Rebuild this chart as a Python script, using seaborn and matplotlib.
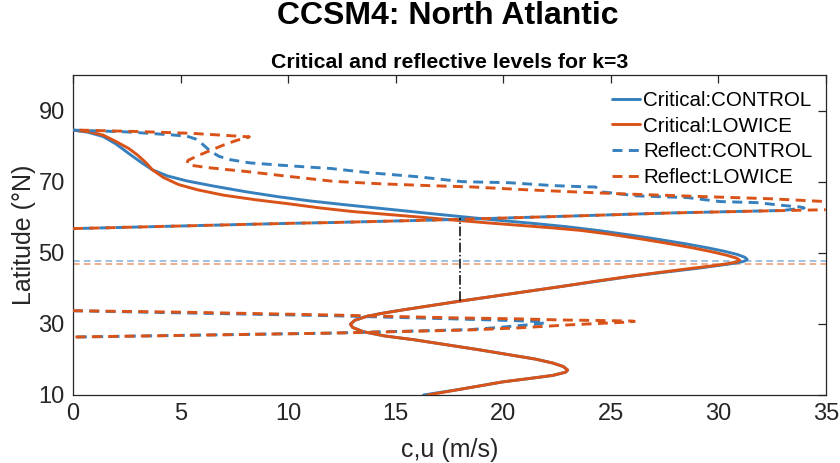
import matplotlib
matplotlib.use("Agg")
import matplotlib.pyplot as plt
import seaborn as sns
import pandas as pd

# ---------------- data ----------------
crit_ctrl_u = [0.0, 0.7, 1.4, 2.0, 2.6, 3.2, 3.7, 4.4, 5.3, 6.5, 8.0, 9.5, 11.0, 12.5, 14.6,
               17.0, 19.5, 21.5, 23.0, 24.5, 26.0, 27.3, 28.5, 29.5, 30.3, 30.9, 31.25, 31.35,
               31.2, 30.8, 30.1, 29.0, 27.6, 26.0, 24.4, 22.8, 21.2, 19.6, 18.0, 16.6, 15.3,
               14.3, 13.6, 13.1, 12.9, 13.0, 13.5, 14.5, 15.9, 17.4, 18.9, 20.3, 21.5, 22.3,
               22.8, 23.0, 22.9, 22.3, 21.3, 20.0, 18.0, 16.3]
crit_ctrl_lat = [84.5, 83.9, 82.7, 80.6, 77.9, 75.3, 73.3, 71.6, 70.2, 68.8, 67.2, 65.8, 64.6, 63.6, 62.3,
                 60.8, 59.3, 58.2, 57.3, 56.2, 54.9, 53.7, 52.5, 51.4, 50.4, 49.5, 48.7, 48.1,
                 47.6, 47.1, 46.5, 45.6, 44.6, 43.4, 42.0, 40.6, 39.2, 37.8, 36.4, 35.1, 33.9,
                 32.9, 32.0, 31.0, 29.9, 29.0, 27.8, 26.6, 25.5, 24.1, 22.7, 21.3, 20.1, 19.0,
                 18.0, 17.0, 16.4, 15.5, 14.7, 13.7, 11.6, 10.0]

crit_low_u = [0.0, 0.7, 1.4, 2.0, 2.6, 3.0, 3.4, 3.7, 4.2, 4.9, 5.8, 7.0, 8.5, 10.0, 11.5,
              13.0, 14.6, 16.2, 17.7, 19.3, 20.8, 22.3, 23.6, 25.0, 26.4, 27.7, 28.8, 29.7,
              30.4, 30.85, 31.0, 30.85, 30.4, 29.7, 28.6, 27.3, 25.8, 24.3, 22.8, 21.2, 19.6,
              18.0, 16.6, 15.3, 14.3, 13.6, 13.1, 12.9, 13.0, 13.5, 14.5, 15.9, 17.4, 18.9,
              20.3, 21.5, 22.3, 22.8, 23.0, 22.9, 22.3, 21.3, 20.0, 18.0, 16.5]
crit_low_lat = [84.5, 84.1, 83.1, 81.3, 79.3, 77.5, 75.3, 73.3, 71.2, 69.2, 67.7, 66.2, 64.9, 63.8, 62.6,
                61.6, 60.8, 60.0, 59.2, 58.4, 57.7, 57.0, 56.3, 55.2, 53.9, 52.6, 51.4, 50.3,
                49.3, 48.5, 47.9, 47.4, 46.9, 46.3, 45.5, 44.5, 43.3, 42.0, 40.6, 39.2, 37.8,
                36.4, 35.1, 33.9, 32.9, 32.0, 31.0, 29.9, 29.0, 27.8, 26.6, 25.5, 24.1, 22.7,
                21.3, 20.1, 19.0, 18.0, 17.0, 16.4, 15.5, 14.7, 13.7, 11.6, 10.0]

# Reflective levels, CONTROL
refl_ctrl_n_u = [0.0, 2.5, 4.5, 5.3, 5.7, 6.05, 6.4, 6.8, 7.3, 8.2, 9.5, 10.7, 12.0, 13.8, 16.0,
                 18.1, 20.3, 22.3, 23.6, 24.3, 24.4, 24.6, 25.1, 26.2, 28.6, 30.1, 31.8, 33.2,
                 33.8, 34.0, 33.0, 30.0, 27.8, 23.0, 17.4, 12.0, 10.2, 0.0]
refl_ctrl_n_lat = [84.5, 84.0, 83.2, 82.8, 82.0, 80.4, 78.5, 77.1, 76.2, 75.3, 74.7, 74.2, 73.7, 72.5, 71.4,
                   70.0, 69.7, 68.9, 68.6, 68.5, 68.0, 67.1, 66.8, 66.0, 65.5, 64.4, 64.1, 63.2,
                   62.9, 62.6, 61.9, 61.5, 61.2, 60.3, 59.3, 58.5, 58.3, 56.8]
refl_ctrl_s_u = [0.0, 5.0, 12.0, 17.7, 20.6, 21.5, 21.95, 21.7, 20.9, 19.8, 18.5, 12.0, 0.0]
refl_ctrl_s_lat = [33.7, 33.1, 32.3, 31.4, 30.9, 30.7, 30.4, 30.0, 29.6, 29.0, 28.4, 27.4, 26.3]

# Reflective levels, LOWICE
refl_low_n1_u = [0.3, 3.0, 5.5, 8.2, 7.6, 7.0, 6.4, 5.8, 5.35, 5.3, 5.5, 6.2, 7.0, 8.0, 10.0,
                 12.1, 14.3, 16.5, 18.6, 20.8, 23.0, 25.4, 29.3, 32.4, 35.0]
refl_low_n1_lat = [84.5, 84.1, 83.6, 82.6, 81.6, 80.3, 78.8, 77.3, 76.0, 75.2, 74.6, 74.0, 73.5, 72.9, 71.5,
                   70.1, 69.4, 68.9, 68.5, 67.8, 67.2, 66.6, 65.8, 65.2, 64.4]
refl_low_n2_u = [0.0, 10.2, 12.0, 17.4, 23.0, 27.8, 32.4, 35.0]
refl_low_n2_lat = [56.8, 58.3, 58.5, 59.3, 60.3, 61.2, 61.8, 62.1]
refl_low_s_u = [0.0, 5.0, 12.0, 17.7, 20.8, 22.7, 25.0, 26.0, 26.1, 25.8, 23.0, 20.8, 18.5, 12.0, 0.0]
refl_low_s_lat = [33.7, 33.3, 32.5, 31.7, 31.4, 31.1, 30.9, 30.8, 30.7, 30.5, 29.7, 28.9, 28.3, 27.4, 26.3]

# latitude of maximum critical level
max_lat_ctrl = 47.7
max_lat_low = 46.9
# dash-dot marker at c = 18
mark_u = [18.0, 18.0]
mark_lat = [36.4, 59.9]

xticks = [0, 5, 10, 15, 20, 25, 30, 35]
yticks = [10, 30, 50, 70, 90]
legend_labels = ['Critical:CONTROL', 'Critical:LOWICE', 'Reflect:CONTROL', 'Reflect:LOWICE']

# ---------------- style ----------------
sns.set_theme(style="white")
plt.rcParams['font.family'] = ['Liberation Sans', 'DejaVu Sans']

BLUE = '#3680BD'
ORANGE = '#D95319'
LBLUE = '#8DB7DB'
LORANGE = '#EFA27C'
INK = '#262626'

fig = plt.figure(figsize=(8.4, 4.63), dpi=100)
ax = fig.add_axes([0.0869, 0.1469, 0.8961, 0.6911])

lw = 2.1
dash = (3.4, 2.2)

def line(u, lat, color, dashed=False, z=2):
    df = pd.DataFrame({'u': u, 'lat': lat})
    sns.lineplot(data=df, x='u', y='lat', sort=False, estimator=None, color=color,
                 linewidth=lw, ax=ax, zorder=z, legend=False)
    ln = ax.lines[-1]
    ln.set_solid_joinstyle('round')
    ln.set_dash_joinstyle('round')
    if dashed:
        ln.set_dashes(dash)
    return ln

ax.axhline(max_lat_ctrl, color=LBLUE, lw=1.2, dashes=(4, 2.5), zorder=1)
ax.axhline(max_lat_low, color=LORANGE, lw=1.2, dashes=(4, 2.5), zorder=1)

h1 = line(crit_ctrl_u, crit_ctrl_lat, BLUE, z=2)
h2 = line(crit_low_u, crit_low_lat, ORANGE, z=3)
h3 = line(refl_ctrl_n_u, refl_ctrl_n_lat, BLUE, dashed=True, z=4)
line(refl_ctrl_s_u, refl_ctrl_s_lat, BLUE, dashed=True, z=4)
h4 = line(refl_low_n1_u, refl_low_n1_lat, ORANGE, dashed=True, z=5)
line(refl_low_n2_u, refl_low_n2_lat, ORANGE, dashed=True, z=5)
line(refl_low_s_u, refl_low_s_lat, ORANGE, dashed=True, z=5)

sns.lineplot(x=mark_u, y=mark_lat, color='black', linewidth=1.1, ax=ax, legend=False,
             sort=False, estimator=None, zorder=6)
ax.lines[-1].set_linestyle('-.')

ax.set_xlim(0, 35)
ax.set_ylim(10, 100)
ax.set_xticks(xticks)
ax.set_yticks(yticks)
ax.tick_params(direction='in', length=6, width=0.9, colors=INK, labelsize=17,
               top=True, right=True, labeltop=False, labelright=False, pad=6)
for s in ax.spines.values():
    s.set_visible(True)
    s.set_color(INK)
    s.set_linewidth(0.9)

ax.set_xlabel('c,u (m/s)', fontsize=18, color=INK, labelpad=9)
ax.set_ylabel('Latitude (°N)', fontsize=18, color=INK, labelpad=2)
ax.set_title('Critical and reflective levels for k=3', fontsize=15.3, fontweight='bold',
             color='black', pad=5)
fig.suptitle('CCSM4: North Atlantic', x=0.5327, y=0.998, fontsize=23, fontweight='bold',
             color='black')

leg = ax.legend([h1, h2, h3, h4], legend_labels,
                loc='upper left', frameon=False, fontsize=14.8, handlelength=1.36,
                handletextpad=0.15, labelspacing=0.32, borderaxespad=0.0, borderpad=0.0,
                bbox_to_anchor=(0.716, 0.95))
for t in leg.get_texts():
    t.set_color('black')

fig.savefig('out.png', dpi=100)
